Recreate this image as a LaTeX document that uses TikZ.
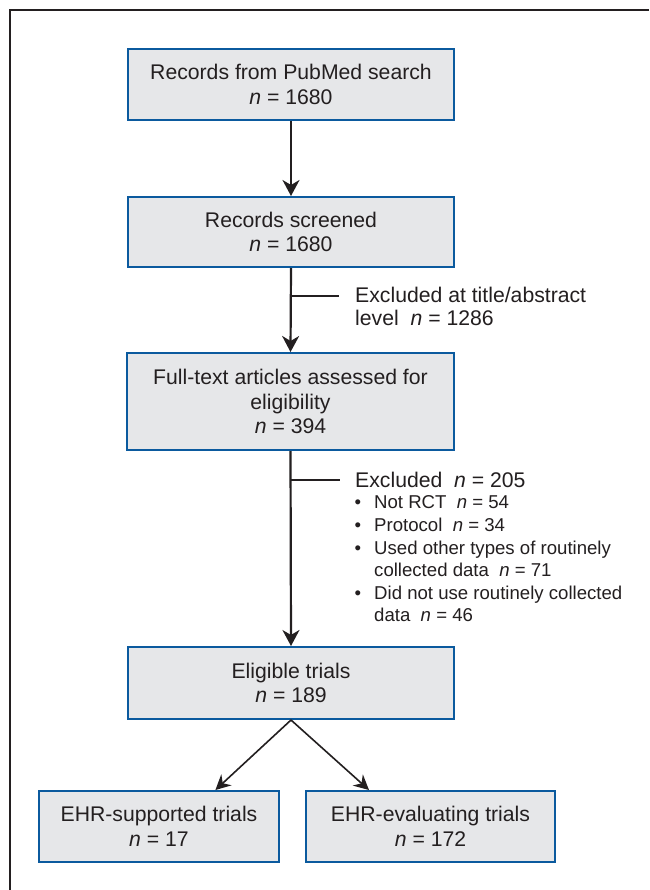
\documentclass[tikz,border=0pt]{standalone}
\usepackage{fontspec}
\setmainfont{Liberation Sans}
\usetikzlibrary{arrows.meta,calc}
\definecolor{boxfill}{HTML}{E6E7E9}
\definecolor{boxline}{HTML}{0B5A9E}
\definecolor{ink}{HTML}{231F20}
\newcommand\mybullet{\makebox[19pt][l]{\hspace*{-0.5pt}\textbullet}}
\begin{document}
\begin{tikzpicture}[x=1pt,y=-1pt,
  box/.style={draw=boxline, fill=boxfill, line width=2pt, inner sep=0pt, align=center, text=ink, font=\fontsize{21.2}{24.5}\selectfont},
  txt/.style={inner sep=0pt, align=left, text=ink, font=\fontsize{21.2}{22.6}\selectfont},
  smalltxt/.style={inner sep=0pt, align=left, text=ink, font=\fontsize{18.6}{22.6}\selectfont},
  flow/.style={draw=ink, line width=2.2pt, -{Stealth[length=16pt,width=17pt,inset=5pt]}},
  diag/.style={draw=ink, line width=1.6pt, -{Stealth[length=15pt,width=15pt,inset=5pt]}},
  branch/.style={draw=ink, line width=2.2pt},
  frame/.style={draw=ink, line width=2pt}]
\useasboundingbox (0,0) rectangle (649,890);
\fill[white] (0,0) rectangle (649,890);
\draw[frame] (649,10) -- (10,10) -- (10,890);

\node[box, minimum width=326pt, minimum height=71pt] (b1) at (291,84.5) {Records from PubMed search\\\textit{n} = 1680};
\node[box, minimum width=326pt, minimum height=70pt] (b2) at (291,232) {Records screened\\\textit{n} = 1680};
\node[box, minimum width=327pt, minimum height=97pt] (b3) at (290.5,401.5) {Full-text articles assessed for\\eligibility\\\textit{n} = 394};
\node[box, minimum width=326pt, minimum height=72pt] (b4) at (291,683) {Eligible trials\\\textit{n} = 189};
\node[box, minimum width=240pt, minimum height=71pt] (b5) at (159,826.5) {EHR-supported trials\\\textit{n} = 17};
\node[box, minimum width=249pt, minimum height=71pt] (b6) at (430.5,826.5) {EHR-evaluating trials\\\textit{n} = 172};

\node[txt, anchor=west] (x1) at (355,306.5) {Excluded at title/abstract\\level\ \ \textit{n} = 1286};
\node[txt, anchor=base west] (x2) at (355,487) {Excluded\ \ \textit{n} = 205};
\node[smalltxt, anchor=west] (x3) at (355,559) {\mybullet Not RCT\ \ \textit{n} = 54\\
\mybullet Protocol\ \ \textit{n} = 34\\
\mybullet Used other types of routinely\\
\hspace*{19pt}collected data\ \ \textit{n} = 71\\
\mybullet Did not use routinely collected\\
\hspace*{19pt}data\ \ \textit{n} = 46};

\path (b2.south |- 0,296) coordinate (br1);
\path (b3.south |- 0,480) coordinate (br2);
\coordinate (br1e) at (339,296);
\coordinate (br2e) at (340,480);

\draw[flow] (b1.south) -- (b2.north);
\draw[flow] (b2.south) -- (b3.north);
\draw[flow] (b3.south) -- (b4.north);
\draw[branch] (br1) -- (br1e);
\draw[branch] (br2) -- (br2e);
\draw[diag] (b4.south) -- ([xshift=-64.6pt]b5.north east);
\draw[diag] (b4.south) -- ([xshift=64pt]b6.north west);
\end{tikzpicture}
\end{document}
